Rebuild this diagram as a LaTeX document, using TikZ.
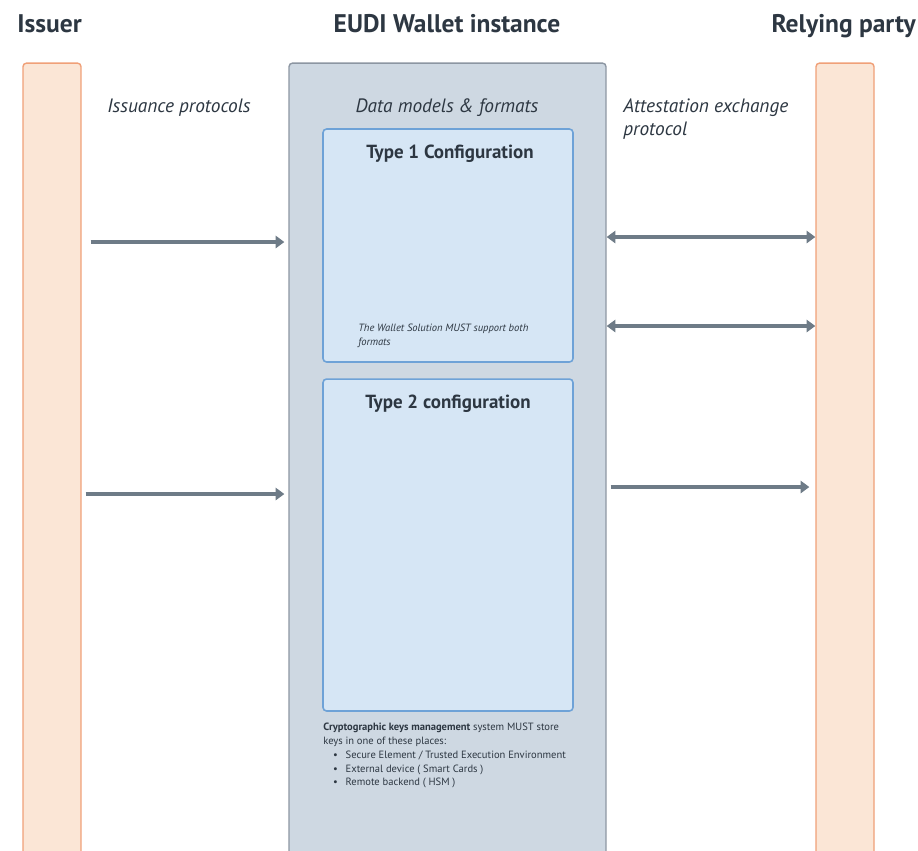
\documentclass[tikz,border=0pt]{standalone}
\usepackage{fontspec}
\setmainfont{PT Sans}
\usetikzlibrary{arrows.meta,positioning,calc}
\definecolor{peachfill}{RGB}{251,230,214}
\definecolor{peachdraw}{RGB}{240,160,120}
\definecolor{walletfill}{RGB}{206,216,226}
\definecolor{walletdraw}{RGB}{140,150,162}
\definecolor{cfgfill}{RGB}{214,230,245}
\definecolor{cfgdraw}{RGB}{110,162,215}
\definecolor{arrowgray}{RGB}{110,123,135}
\definecolor{inkdark}{RGB}{45,55,66}
\tikzset{
  party/.style  ={rectangle, rounded corners=2pt, draw=peachdraw, fill=peachfill, line width=0.8pt,
                  minimum width=1.16cm, minimum height=15.94cm, inner sep=0pt},
  wallet/.style ={rectangle, rounded corners=2pt, draw=walletdraw, fill=walletfill, line width=0.8pt,
                  minimum width=6.34cm, minimum height=15.94cm, inner sep=0pt},
  cfg/.style    ={rectangle, rounded corners=2pt, draw=cfgdraw, fill=cfgfill, line width=0.9pt,
                  minimum width=5.0cm, minimum height=4.66cm, inner sep=0pt},
  head/.style   ={font=\fontsize{14.5}{17}\selectfont\bfseries, text=inkdark, inner sep=0pt},
  cfghead/.style={font=\fontsize{10.8}{13}\selectfont\bfseries, text=inkdark, inner sep=0pt, anchor=base},
  proto/.style  ={font=\fontsize{11}{13.6}\selectfont\itshape, text=inkdark, inner sep=0pt},
  note/.style   ={font=\fontsize{6}{7.8}\selectfont, text=inkdark, inner sep=0pt, align=left},
  flow/.style   ={-{Triangle[length=5pt,width=7pt]}, line width=1.9pt, draw=arrowgray},
  flowb/.style  ={{Triangle[length=5pt,width=7pt]}-{Triangle[length=5pt,width=7pt]}, line width=1.9pt, draw=arrowgray}
}
\begin{document}
\begin{tikzpicture}[x=0.02cm,y=-0.02cm]
  \clip (0,0) rectangle (918,850);
  \fill[white] (0,0) rectangle (918,850);

  \node[party] (iss) at (52,461.5) {};
  \node[party] (rp) at (845,461.5) {};
  \node[wallet] (wal) at (447.5,461.5) {};
  \node[cfg] (t1) at (448,245.5) {};
  \node[cfg, minimum height=6.64cm] (t2) at (448,545) {};

  \node[head, anchor=base west] (isst) at (17,32) {Issuer};
  \node[head, anchor=base] (walt) at (447,32) {EUDI Wallet instance};
  \node[head, anchor=base east] (rpt) at (916,32) {Relying party};

  \node[proto, anchor=base west] (issp) at (107,112) {Issuance protocols};
  \node[proto, anchor=base] (dmf) at (447,112) {Data models \& formats};
  \node[proto, anchor=north west, align=left] (aep) at (623,98) {Attestation exchange\\protocol};

  \node[cfghead] (t1t) at (450,158) {Type 1 Configuration};
  \node[cfghead] (t2t) at (448,408) {Type 2 configuration};
  \node[note, font=\fontsize{6}{7.8}\selectfont\itshape, anchor=north west] (both) at (358,324)
    {The Wallet Solution MUST support both\\formats};
  \node[note, anchor=north west] (keys) at (323,723)
    {\textbf{Cryptographic keys management} system MUST store\\
     keys in one of these places:\\
     \hspace*{5.5pt}\textbullet\hspace{4.5pt}Secure Element / Trusted Execution Environment\\
     \hspace*{5.5pt}\textbullet\hspace{4.5pt}External device ( Smart Cards )\\
     \hspace*{5.5pt}\textbullet\hspace{4.5pt}Remote backend ( HSM )};

  % connectors
  \coordinate (r1) at (0,242);
  \coordinate (r2) at (0,494);
  \coordinate (r3) at (0,237);
  \coordinate (r4) at (0,326);
  \coordinate (r5) at (0,487);
  \draw[flow, shorten <=0.18cm, shorten >=0.08cm] (iss.east |- r1) -- (wal.west |- r1);
  \draw[flow, shorten <=0.08cm, shorten >=0.08cm] (iss.east |- r2) -- (wal.west |- r2);
  \draw[flowb] (wal.east |- r3) -- (rp.west |- r3);
  \draw[flowb] (wal.east |- r4) -- (rp.west |- r4);
  \draw[flow, shorten <=0.08cm, shorten >=0.12cm] (wal.east |- r5) -- (rp.west |- r5);
\end{tikzpicture}
\end{document}
